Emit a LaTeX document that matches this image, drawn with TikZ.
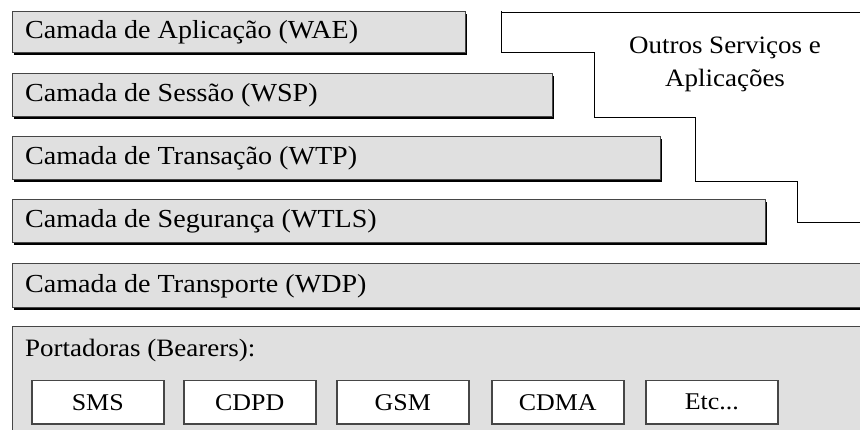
\documentclass[tikz,border=0pt]{standalone}
\usepackage{fontspec}
\setmainfont{Liberation Serif}[FakeStretch=1.08]
\usetikzlibrary{positioning}
\definecolor{layerfill}{RGB}{224,224,224}
\definecolor{edgegray}{RGB}{70,70,70}
\tikzset{
  layer/.style={draw=edgegray, line width=1pt, fill=layerfill, anchor=north west,
    inner sep=0pt, outer sep=0pt,
    preaction={fill=black, transform canvas={shift={(2.2pt,-2.2pt)}}}},
  openlayer/.style={draw=none, fill=layerfill, anchor=north west, inner sep=0pt, outer sep=0pt},
  layertext/.style={anchor=west, inner sep=0pt, font=\fontsize{26}{30}\selectfont},
  bearer/.style={draw=edgegray, line width=1.5pt, fill=white, anchor=north west,
    minimum width=132pt, minimum height=43pt, inner sep=0pt,
    font=\fontsize{24}{28}\selectfont},
  outline/.style={draw=black, line width=1pt},
}
\begin{document}
\begin{tikzpicture}[x=1pt, y=-1pt]
  \useasboundingbox (0,0) rectangle (860,430);

  % protocol layers
  \node[layer, minimum width=453pt, minimum height=41pt] (wae)  at (12,12)  {};
  \node[layer, minimum width=540pt, minimum height=43pt] (wsp)  at (12,74)  {};
  \node[layer, minimum width=648pt, minimum height=43pt] (wtp)  at (12,137) {};
  \node[layer, minimum width=753pt, minimum height=43pt] (wtls) at (12,200) {};
  \node[layer, minimum width=870pt, minimum height=44pt] (wdp)  at (12,264) {};

  \node[layertext] at ([xshift=13pt]wae.west)  {Camada de Aplicação (WAE)};
  \node[layertext] at ([xshift=13pt]wsp.west)  {Camada de Sessão (WSP)};
  \node[layertext] at ([xshift=13pt]wtp.west)  {Camada de Transação (WTP)};
  \node[layertext] at ([xshift=13pt]wtls.west) {Camada de Segurança (WTLS)};
  \node[layertext] at ([xshift=13pt]wdp.west)  {Camada de Transporte (WDP)};

  % bearers panel
  \node[openlayer, minimum width=860pt, minimum height=120pt] (bear) at (12,327) {};
  \draw[edgegray, line width=1pt] (bear.south west) -- (bear.north west) -- (bear.north east);
  \node[layertext, anchor=base west, font=\fontsize{25}{30}\selectfont] (beartitle) at (25,357) {Portadoras (Bearers):};

  \node[bearer] (sms)  at (31,380)  {SMS};
  \node[bearer] (cdpd) at (183,380) {CDPD};
  \node[bearer] (gsm)  at (336,380) {GSM};
  \node[bearer] (cdma) at (491,380) {CDMA};
  \node[bearer] (etc)  at (645,380) {Etc...};

  % outline of the other services region
  \coordinate (s0) at (501,11);
  \coordinate (s1) at (501,53);
  \coordinate (s2) at (594,53);
  \coordinate (s3) at (594,118);
  \coordinate (s4) at (695,118);
  \coordinate (s5) at (695,182);
  \coordinate (s6) at (797,182);
  \coordinate (s7) at (797,223);
  \coordinate (s8) at (861,223);
  \coordinate (t0) at (501,13);
  \coordinate (t1) at (861,13);
  \draw[outline] (s0) -- (s1) -- (s2) -- (s3) -- (s4) -- (s5) -- (s6) -- (s7) -- (s8);
  \draw[outline] (t0) -- (t1);
  \node[align=center, font=\fontsize{25}{33}\selectfont] (other) at (725,64)
    {Outros Serviços e\\Aplicações};
\end{tikzpicture}
\end{document}
